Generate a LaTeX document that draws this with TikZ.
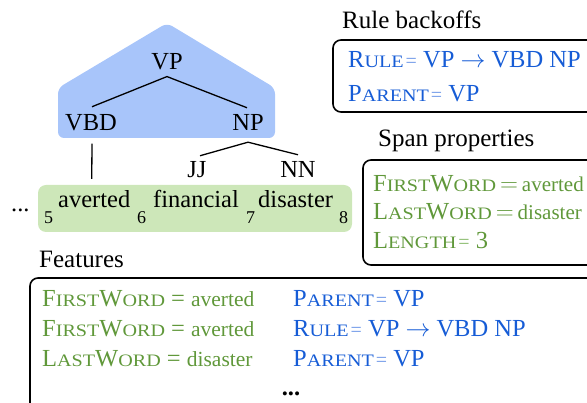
\documentclass[tikz,border=0pt]{standalone}
\usepackage{fontspec}
\setmainfont{Liberation Serif}
\newfontfamily\scfam[FakeStretch=1.15]{Liberation Serif}
\definecolor{fblue}{RGB}{22,92,214}
\definecolor{fbluel}{RGB}{110,152,232}
\definecolor{fgreen}{RGB}{96,152,58}
\definecolor{fgreenl}{RGB}{135,185,105}
\definecolor{treebg}{RGB}{168,197,250}
\definecolor{wordbg}{RGB}{205,231,185}
\newcommand\fsc[2]{#1{\scfam\fontsize{17.5}{18}\selectfont #2}}
\newcommand\beq{{\color{fbluel}\fontsize{20}{20}\selectfont =}}
\newcommand\greq{{\color{fgreenl}\fontsize{20}{20}\selectfont =}}
\newcommand\valsize{\fontsize{21.5}{24}\selectfont}
\begin{document}
\begin{tikzpicture}[x=1pt,y=-1pt,
  every node/.style={font=\fontsize{24.5}{28}\selectfont, inner sep=0pt},
  tnode/.style={anchor=base},
  wnode/.style={anchor=base west},
  subn/.style={anchor=base west, font=\fontsize{18}{18}\selectfont},
  tline/.style={line width=1.3pt},
  fbox/.style={line width=1.6pt, rounded corners=8pt},
  title/.style={anchor=base west, font=\fontsize{25}{28}\selectfont},
  btext/.style={anchor=base west, text=fblue},
  gtext/.style={anchor=base west, text=fgreen}]
\useasboundingbox (0,0) rectangle (587,403);
\clip (0,0) rectangle (587,403);
% backgrounds
\fill[treebg, rounded corners=6pt] (58,138) -- (58,88) -- (167,23) -- (275,88) -- (275,138) -- cycle;
\fill[wordbg, rounded corners=8pt] (38,185) rectangle (352,232);
% tree
\node[tnode] (vp) at (167,70) {VP};
\node[tnode] (vbd) at (91,131) {VBD};
\node[tnode] (np) at (248,131) {NP};
\node[tnode] (jj) at (197,178) {JJ};
\node[tnode] (nn) at (298,178) {NN};
% words
\node[wnode] (dots) at (11,212) {...};
\node[subn] (s5) at (44,224) {5};
\node[wnode] (averted) at (58,208) {averted};
\node[subn] (s6) at (137,224) {6};
\node[wnode] (financial) at (153,208) {financial};
\node[subn] (s7) at (246,224) {7};
\node[wnode] (disaster) at (258,208) {disaster};
\node[subn] (s8) at (339,224) {8};
% tree lines
\draw[tline] ([yshift=-6pt]vp.south) -- ([xshift=1pt,yshift=8pt]vbd.north);
\draw[tline] ([yshift=-6pt]vp.south) -- ([xshift=-1pt,yshift=7pt]np.north);
\draw[tline] ([yshift=-11pt]np.south) -- ([xshift=3pt,yshift=6pt]jj.north);
\draw[tline] ([yshift=-11pt]np.south) -- ([yshift=7pt]nn.north);
\draw[tline] ([xshift=1pt,yshift=-12pt]vbd.south) -- ([xshift=-2.5pt,yshift=12pt]averted.north);
% titles
\node[title] (trule) at (342,29) {Rule backoffs};
\node[title] (tspan) at (378,147) {Span properties};
\node[title] (tfeat) at (39,268) {Features};
% boxes
\draw[fbox] (333,40) rectangle (640,112);
\draw[fbox] (363,160) rectangle (640,265);
\draw[fbox] (30,278) rectangle (640,440);
% rule backoffs
\node[btext] (r1) at (348,68) {\fsc{R}{ULE}\kern2pt\beq\ VP $\rightarrow$ VBD NP};
\node[btext] (r2) at (348,102) {\fsc{P}{ARENT}\kern2pt\beq\ VP};
% span properties
\node[gtext] (p1) at (373,191.5) {\fsc{F}{IRST}\fsc{W}{ORD}\kern4pt$=$\kern4pt{\fontsize{21}{24}\selectfont averted}};
\node[gtext] (p2) at (373,219.5) {\fsc{L}{AST}\fsc{W}{ORD}\kern4pt$=$\kern4pt{\fontsize{21}{24}\selectfont disaster}};
\node[gtext] (p3) at (373,248.5) {\fsc{L}{ENGTH}\kern2pt\greq\ 3};
% features
\node[gtext] (f1) at (42,307) {\fsc{F}{IRST}\fsc{W}{ORD} = {\valsize averted}};
\node[gtext] (f2) at (42,337) {\fsc{F}{IRST}\fsc{W}{ORD} = {\valsize averted}};
\node[gtext] (f3) at (42,367) {\fsc{L}{AST}\fsc{W}{ORD} = {\valsize disaster}};
\node[btext] (g1) at (293,307) {\fsc{P}{ARENT}\kern2pt\beq\ VP};
\node[btext] (g2) at (293,337) {\fsc{R}{ULE}\kern2pt\beq\ VP $\rightarrow$ VBD NP};
\node[btext] (g3) at (293,367) {\fsc{P}{ARENT}\kern2pt\beq\ VP};
\node[anchor=base] (fdots) at (291,396) {\textbf{...}};
\end{tikzpicture}
\end{document}
